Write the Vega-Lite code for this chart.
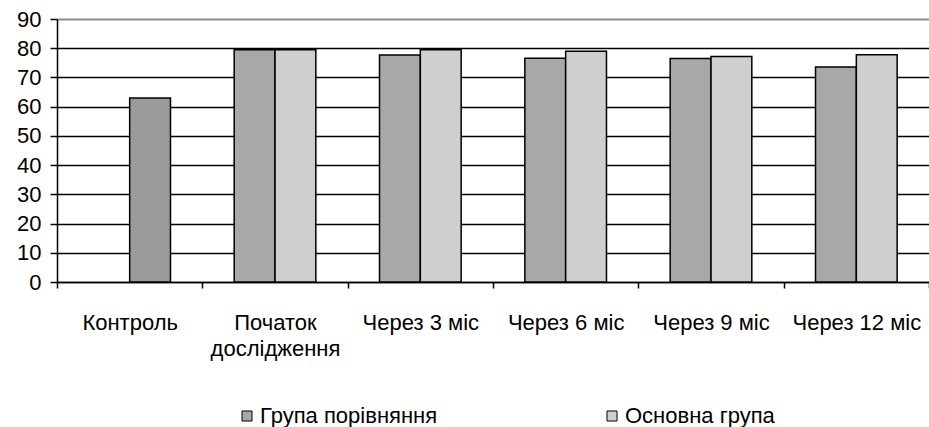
{
  "$schema": "https://vega.github.io/schema/vega-lite/v6.json",
  "width": 872,
  "height": 263,
  "autosize": {"type": "none"},
  "padding": {"left": 57, "top": 19, "right": 0, "bottom": 145},
  "background": "white",
  "config": {
    "font": "Liberation Sans",
    "view": {"stroke": null}
  },
  "data": {
    "values": [
      {"period": "Контроль", "series": "Контроль", "slot": "b", "value": 63},
      {"period": "Початок дослідження", "series": "Група порівняння", "slot": "a", "value": 79.5},
      {"period": "Початок дослідження", "series": "Основна група", "slot": "b", "value": 79.5},
      {"period": "Через 3 міс", "series": "Група порівняння", "slot": "a", "value": 77.7},
      {"period": "Через 3 міс", "series": "Основна група", "slot": "b", "value": 79.5},
      {"period": "Через 6 міс", "series": "Група порівняння", "slot": "a", "value": 76.6},
      {"period": "Через 6 міс", "series": "Основна група", "slot": "b", "value": 79.0},
      {"period": "Через 9 міс", "series": "Група порівняння", "slot": "a", "value": 76.5},
      {"period": "Через 9 міс", "series": "Основна група", "slot": "b", "value": 77.2},
      {"period": "Через 12 міс", "series": "Група порівняння", "slot": "a", "value": 73.6},
      {"period": "Через 12 міс", "series": "Основна група", "slot": "b", "value": 77.8}
    ]
  },
  "mark": {"type": "bar", "stroke": "black", "strokeWidth": 1.5},
  "encoding": {
    "x": {
      "field": "period",
      "type": "nominal",
      "sort": null,
      "scale": {"paddingInner": 0, "paddingOuter": 0},
      "axis": {
        "title": null,
        "labelAngle": 0,
        "labelFontSize": 22,
        "labelColor": "black",
        "labelPadding": 24,
        "labelLineHeight": 26,
        "labelExpr": "datum.value == 'Початок дослідження' ? ['Початок', 'дослідження'] : datum.value",
        "tickBand": "extent",
        "tickSize": 6,
        "tickColor": "black",
        "tickWidth": 1.5,
        "domainColor": "black",
        "domainWidth": 1.5,
        "labelLimit": 200,
        "labelOverlap": false,
        "labelBound": false,
        "labelFlush": false
      }
    },
    "xOffset": {
      "field": "slot",
      "type": "nominal",
      "scale": {"domain": ["a", "b"], "paddingInner": 0, "paddingOuter": 0.78}
    },
    "y": {
      "field": "value",
      "type": "quantitative",
      "scale": {"domain": [0, 90], "nice": false},
      "axis": {
        "title": null,
        "values": [0, 10, 20, 30, 40, 50, 60, 70, 80, 90],
        "labelFontSize": 22,
        "labelColor": "black",
        "labelPadding": 9,
        "tickSize": 7,
        "tickColor": "black",
        "tickWidth": 1.5,
        "domainColor": "black",
        "domainWidth": 1.5,
        "grid": true,
        "gridColor": {"condition": {"test": "datum.value === 90", "value": "#8c8c8c"}, "value": "black"},
        "gridWidth": {"condition": {"test": "datum.value === 90", "value": 2}, "value": 1.5},
        "gridOpacity": 1
      }
    },
    "fill": {
      "field": "series",
      "type": "nominal",
      "scale": {
        "domain": ["Група порівняння", "Основна група", "Контроль"],
        "range": ["#a8a8a8", "#cfcfcf", "#9a9a9a"]
      },
      "legend": {
        "title": null,
        "values": ["Група порівняння", "Основна група"],
        "orient": "none",
        "legendX": 179,
        "legendY": 386,
        "direction": "horizontal",
        "columns": 2,
        "columnPadding": 163,
        "symbolType": "square",
        "symbolSize": 100,
        "symbolStrokeColor": "black",
        "symbolStrokeWidth": 1,
        "labelFontSize": 22,
        "labelColor": "black",
        "labelOffset": 2,
        "labelLimit": 300
      }
    }
  }
}
